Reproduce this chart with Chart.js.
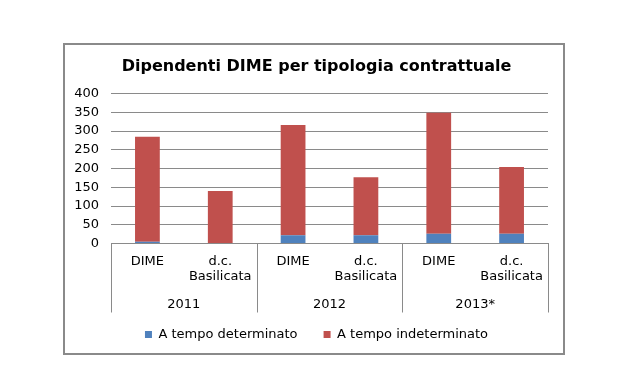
<!DOCTYPE html>
<html>
<head>
<meta charset="utf-8">
<script src="https://cdn.jsdelivr.net/npm/chart.js@4/dist/chart.umd.min.js"></script>
<style>
  html, body { margin: 0; padding: 0; background: #ffffff; }
  #box { position: absolute; left: 63px; top: 43px; width: 498px; height: 308px; border: 2px solid #8a8a8a; background: #fff; }
  #c { display: block; }
</style>
</head>
<body>
<div id="box"><canvas id="c" width="498" height="308"></canvas></div>
<script>
const categories = ["DIME", ["d.c.", "Basilicata"], "DIME", ["d.c.", "Basilicata"], "DIME", ["d.c.", "Basilicata"]];
const years = ["2011", "2012", "2013*"];
const tempoDeterminato = [5, 0, 22, 22, 26, 26];
const tempoIndeterminato = [280, 140, 294, 155, 323, 178];
const yTicks = [0, 50, 100, 150, 200, 250, 300, 350, 400];
const titleText = "Dipendenti DIME per tipologia contrattuale";

const FONT = "'DejaVu Sans', Verdana, sans-serif";

function fixSize(prop, value) {
  return function (scale) {
    scale[prop] = value;
    scale._computeLabelArea = function () { return undefined; };
  };
}

const groupSeparators = {
  id: 'groupSeparators',
  afterDraw(chart) {
    const x = chart.scales.x;
    const x2 = chart.scales.x2;
    const ctx = chart.ctx;
    const top = chart.chartArea.bottom;
    const bottom = x2.top + 28;
    const n = categories.length;
    const per = n / years.length;
    const xs = [x.left];
    for (let g = 1; g < years.length; g++) {
      xs.push((x.getPixelForValue(g * per - 1) + x.getPixelForValue(g * per)) / 2);
    }
    xs.push(x.right);
    ctx.save();
    ctx.strokeStyle = '#8a8a8a';
    ctx.lineWidth = 1;
    ctx.beginPath();
    xs.forEach(px => {
      const p = Math.round(px) + 0.5;
      ctx.moveTo(p, top);
      ctx.lineTo(p, bottom);
    });
    ctx.stroke();
    ctx.restore();
  }
};

new Chart(document.getElementById('c'), {
  type: 'bar',
  data: {
    labels: categories,
    datasets: [
      { label: 'A tempo determinato', data: tempoDeterminato, backgroundColor: '#4F81BD', barPercentage: 0.34, categoryPercentage: 1.0, xAxisID: 'x' },
      { label: 'A tempo indeterminato', data: tempoIndeterminato, backgroundColor: '#C0504D', barPercentage: 0.34, categoryPercentage: 1.0, xAxisID: 'x' }
    ]
  },
  options: {
    responsive: false,
    animation: false,
    layout: { padding: { left: 20, right: 15, top: 0, bottom: 2 } },
    plugins: {
      title: {
        display: true,
        text: titleText,
        color: '#000',
        font: { family: FONT, size: 16, weight: 'bold' },
        padding: { top: 12, bottom: 17.3 }
      },
      legend: {
        position: 'bottom',
        labels: {
          color: '#000',
          font: { family: FONT, size: 13 },
          boxWidth: 7,
          boxHeight: 7,
          padding: 26
        }
      },
      tooltip: { enabled: false }
    },
    scales: {
      y: {
        stacked: true,
        min: 0,
        max: 400,
        afterBuildTicks(scale) { scale.ticks = yTicks.map(v => ({ value: v })); },
        afterFit: fixSize('width', 26),
        ticks: { color: '#000', font: { family: FONT, size: 13 }, padding: 12, autoSkip: false },
        grid: { color: '#8a8a8a', lineWidth: 1, drawTicks: false },
        border: { display: false }
      },
      x: {
        stacked: true,
        position: 'bottom',
        afterFit: fixSize('height', 41),
        ticks: { color: '#000', font: { family: FONT, size: 13 }, padding: 10, maxRotation: 0, autoSkip: false },
        grid: { display: false, drawTicks: false },
        border: { display: true, color: '#8a8a8a' }
      },
      x2: {
        type: 'category',
        labels: years,
        position: 'bottom',
        offset: true,
        afterFit: fixSize('height', 17.5),
        ticks: { color: '#000', font: { family: FONT, size: 13 }, padding: 12, maxRotation: 0 },
        grid: { display: false, drawTicks: false },
        border: { display: false }
      }
    }
  },
  plugins: [groupSeparators]
});
</script>
</body>
</html>
